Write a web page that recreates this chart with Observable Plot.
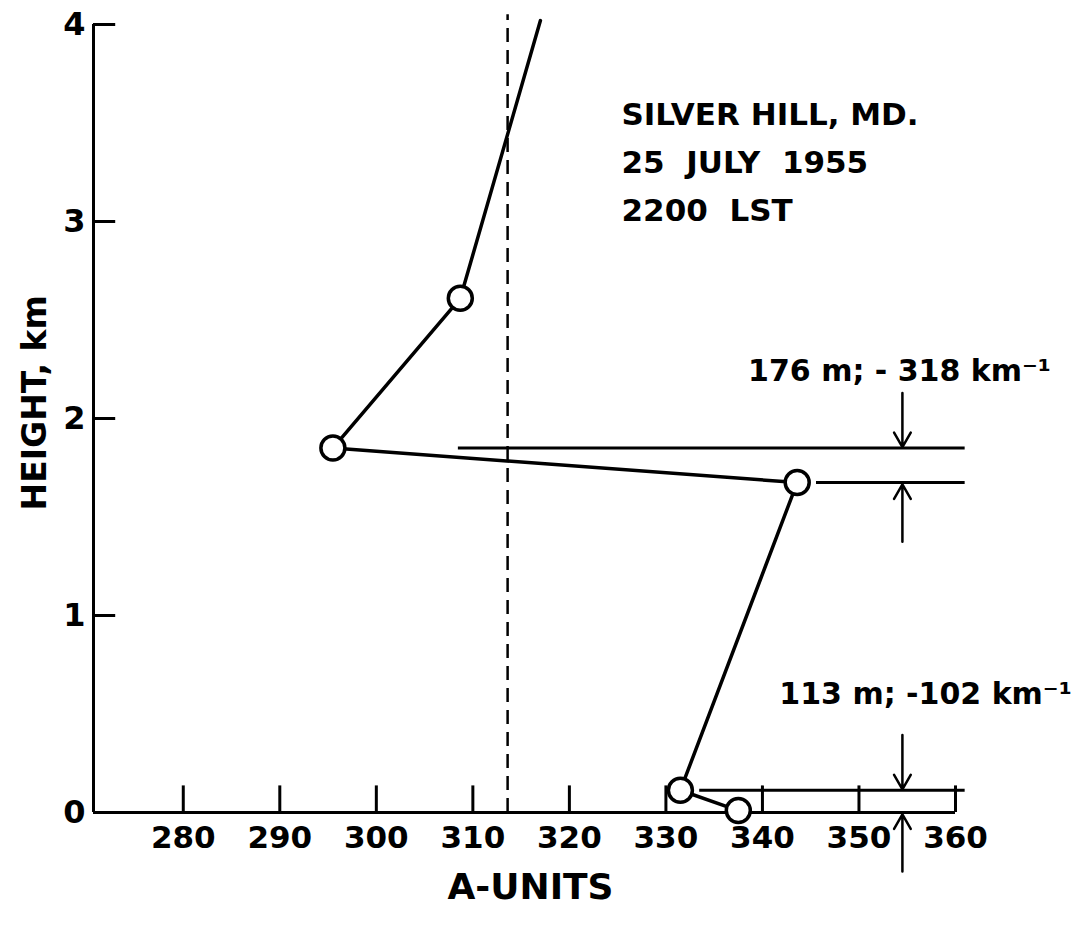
<!DOCTYPE html>
<html>
<head>
<meta charset="utf-8">
<script src="https://cdn.jsdelivr.net/npm/d3@7"></script>
<script src="https://cdn.jsdelivr.net/npm/@observablehq/plot@0.6"></script>
<style>
  html, body { margin: 0; padding: 0; background: #fff; }
  svg { display: block; }
</style>
</head>
<body>
<div id="chart"></div>
<script>
// ---- data ----
const xTicks = [280, 290, 300, 310, 320, 330, 340, 350, 360];
const yTicks = [0, 1, 2, 3, 4];
const profileA = [337.5, 331.5, 343.6, 295.5, 308.7, 317.0];
const profileH = [0.01, 0.113, 1.675, 1.85, 2.61, 4.02];
const observed = [true, true, true, true, true, false];
const refA = 313.6;               // dashed reference line (A-units)
const layerTop = [1.85, 0.113];
const layerBottom = [1.675, 0.0];
const layerStartA = [308.5, 333.5]; // where top boundary line starts
const layerLabels = ["176 m; - 318 km\u207B\u00B9", "113 m; -102 km\u207B\u00B9"];
const titleLines = ["SILVER HILL, MD.", "25  JULY  1955", "2200  LST"];

const xMin = 270.7, xMax = 360, xEnd = 361;
const profile = profileA.map((a, i) => ({a, h: profileH[i], obs: observed[i]}));
const layers = layerTop.map((t, i) => ({top: t, bottom: layerBottom[i], start: layerStartA[i], label: layerLabels[i]}));
const arrowA = 354.5;
const font = "DejaVu Sans, sans-serif";

const chart = Plot.plot({
  width: 1073,
  height: 934,
  marginLeft: 93,
  marginRight: 118,
  marginTop: 24,
  marginBottom: 122,
  style: {fontFamily: font, background: "#fff", color: "#000"},
  x: {domain: [xMin, xMax]},
  y: {domain: [0, 4]},
  marks: [
    // axes lines
    Plot.ruleY([0], {x1: xMin, x2: xMax, stroke: "#000", strokeWidth: 3}),
    Plot.ruleX([xMin], {y1: 0, y2: 4, stroke: "#000", strokeWidth: 3}),
    // inward ticks
    Plot.ruleX(xTicks, {x: d => d, y1: 0, y2: 0.135, stroke: "#000", strokeWidth: 3}),
    Plot.ruleY(yTicks, {y: d => d, x1: xMin, x2: xMin + 2.3, stroke: "#000", strokeWidth: 3}),
    Plot.axisX(xTicks, {tickSize: 0, tickPadding: 13, fontSize: 31, fontWeight: "bold", tickFormat: d => String(d)}),
    Plot.axisY(yTicks, {tickSize: 0, tickPadding: 8, fontSize: 32, fontWeight: "bold", tickFormat: d => String(d)}),
    Plot.text(["A-UNITS"], {frameAnchor: "bottom", dy: 86, dx: 6, fontSize: 36, fontWeight: "bold", text: d => d}),
    Plot.text(["HEIGHT, km"], {x: xMin, y: 2.08, dx: -58, rotate: -90, fontSize: 33, fontWeight: "bold", text: d => d}),
    // dashed reference line
    Plot.ruleX([refA], {y1: 0, y2: 4.05, stroke: "#000", strokeWidth: 2.5, strokeDasharray: "14,8"}),
    // layer boundaries
    Plot.ruleY(layers, {y: "top", x1: "start", x2: xEnd, stroke: "#000", strokeWidth: 3}),
    Plot.ruleY(layers.filter(d => d.bottom > 0), {y: "bottom", x1: 345.6, x2: xEnd, stroke: "#000", strokeWidth: 3}),
    Plot.ruleX(layers.filter(d => d.bottom === 0), {x: xMax, y1: "bottom", y2: "top", stroke: "#000", strokeWidth: 3}),
    // arrows
    Plot.arrow(layers, {x1: arrowA, x2: arrowA, y1: d => d.top + 0.28, y2: d => d.top + 0.005, stroke: "#000", strokeWidth: 2.5, headLength: 10}),
    Plot.arrow(layers, {x1: arrowA, x2: arrowA, y1: d => d.bottom - 0.3, y2: d => d.bottom - 0.01, stroke: "#000", strokeWidth: 2.5, headLength: 10}),
    Plot.text(layers, {x: d => d.top > 1 ? 354.2 : 356.9, y: d => d.top > 1 ? 2.24 : 0.60, text: "label", fontSize: 30, fontWeight: "bold"}),
    // profile
    Plot.line(profile, {x: "a", y: "h", stroke: "#000", strokeWidth: 3.5}),
    Plot.dot(profile.filter(d => d.obs), {x: "a", y: "h", r: 12, fill: "#fff", stroke: "#000", strokeWidth: 3.5}),
    // title block
    Plot.text([titleLines.join("\n")], {x: 325.4, y: 3.58, text: d => d, textAnchor: "start", lineAnchor: "top", dy: -16, lineHeight: 1.55, fontSize: 31, fontWeight: "bold"})
  ]
});
document.getElementById("chart").appendChild(chart);
</script>
</body>
</html>
